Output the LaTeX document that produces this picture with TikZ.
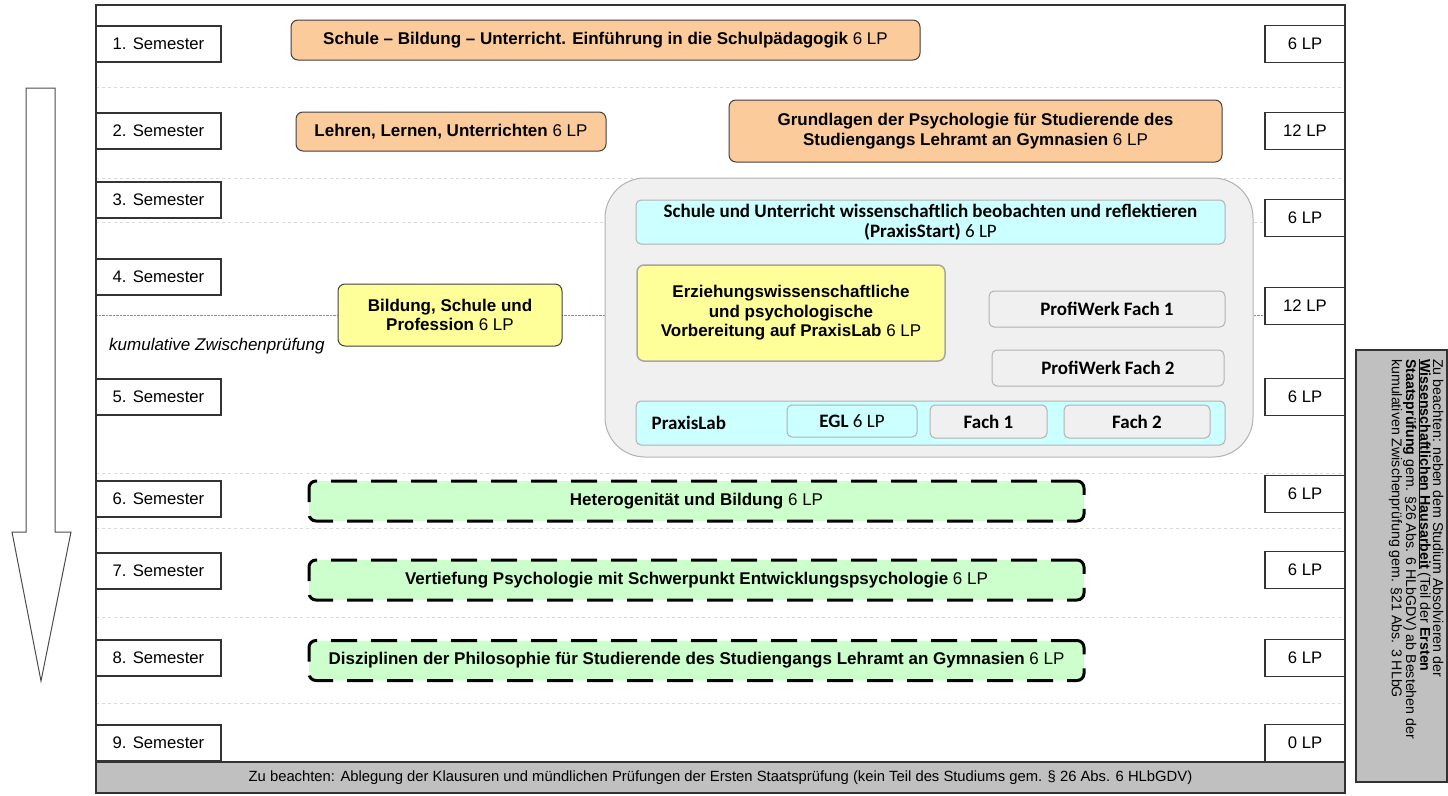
\documentclass[tikz,border=0pt]{standalone}
\usepackage{fontspec}
\setmainfont{Liberation Sans}
\newfontfamily\calibri{Carlito}
\usetikzlibrary{positioning}
\definecolor{orangefill}{RGB}{251,203,155}
\definecolor{yellowfill}{RGB}{255,255,153}
\definecolor{cyanfill}{RGB}{204,255,255}
\definecolor{greenfill}{RGB}{204,255,204}
\definecolor{lightfill}{RGB}{240,240,240}
\definecolor{notefill}{RGB}{192,192,192}

\begin{document}
\begin{tikzpicture}
    [x=1pt, y=-1pt,
     sem/.style = {draw=black!80, line width=1.1pt, fill=white, inner sep=0pt, minimum width=125pt, minimum height=36pt, font=\fontsize{16.7}{19}\selectfont},
     lp/.style = {sem, minimum width=80pt, minimum height=37pt},
     modul/.style = {draw=black!75, line width=1pt, rounded corners=7pt, inner sep=0pt, align=center, font=\fontsize{17}{19.5}\selectfont},
     orangebox/.style = {modul, fill=orangefill},
     yellowbox/.style = {modul, fill=yellowfill},
     greenbox/.style = {modul, fill=greenfill, draw=black, line width=3pt, dash pattern=on 26pt off 14pt, minimum width=775pt, minimum height=40pt},
     praxisbox/.style = {draw=black!30, line width=1pt, rounded corners=5pt, inner sep=0pt, align=center, font=\calibri\fontsize{19}{20}\selectfont},
     sep/.style = {black!15, dashed}]
    \useasboundingbox (0,0) rectangle (1448,795);
    % rows and frame
    \foreach \y in {87,178,222,473,528,617,703}
        \draw[sep] (96,\y) -- (1345,\y);
    \draw[black!45, densely dotted] (96,315) -- (1265,315);
    \draw[black!80, line width=1.1pt] (96,5) rectangle (1345,793);
    % time arrow
    \draw[black!70, line width=1pt, fill=white] (26,88) -- (55,88) -- (55,532) -- (71,532) -- (41,681) -- (12,532) -- (26,532) -- cycle;
    % semesters and credit points
    \foreach \i/\y in {1/44,2/131,3/200,4/277,5/397,6/499,7/571,8/658,9/743}
        \node[sem] (s\i) at (158.5,\y) {\i. Semester};
    \foreach \i/\y/\n in {1/44/6,2/131/12,3/218/6,4/306/12,5/397/6,6/494/6,7/570/6,8/658/6,9/743/0}
        \node[lp] (lp\i) at (1305,\y) {\n\ LP};
    % modules
    \node[orangebox, minimum width=629pt, minimum height=40pt] (m1) at (605.5,40) {\textbf{Schule – Bildung – Unterricht. Einführung in die Schulpädagogik} 6 LP};
    \node[orangebox, minimum width=310pt, minimum height=39pt] (m2) at (451,131.5) {\textbf{Lehren, Lernen, Unterrichten} 6 LP};
    \node[orangebox, minimum width=493pt, minimum height=62pt] (m3) at (975.5,131) {\textbf{Grundlagen der Psychologie für Studierende des}\\\textbf{Studiengangs Lehramt an Gymnasien} 6 LP};
    \node[yellowbox, minimum width=224pt, minimum height=62pt] (bsp) at (450,315) {\textbf{Bildung, Schule und}\\\textbf{Profession} 6 LP};
    \node[anchor=west, inner sep=0pt, font=\itshape\fontsize{17}{19}\selectfont] (kzp) at (109,346) {kumulative Zwischenprüfung};
    % practical phase
    \node[draw=black!30, line width=1pt, fill=lightfill, rounded corners=40pt, minimum width=648pt, minimum height=279pt] (praxis) at (929,317.5) {};
    \node[praxisbox, fill=cyanfill, minimum width=589pt, minimum height=44pt] (start) at (930.5,222) {\textbf{Schule und Unterricht wissenschaftlich beobachten und reflektieren}\\\textbf{(PraxisStart)} 6 LP};
    \node[yellowbox, draw=black!35, line width=1.5pt, minimum width=308pt, minimum height=96pt] (vorb) at (791,313) {\textbf{Erziehungswissenschaftliche}\\\textbf{und psychologische}\\\textbf{Vorbereitung auf PraxisLab} 6 LP};
    \node[praxisbox, fill=lightfill, minimum width=236pt, minimum height=36pt] (pw1) at (1107,309) {\textbf{ProfiWerk Fach 1}};
    \node[praxisbox, fill=lightfill, minimum width=232pt, minimum height=36pt] (pw2) at (1108,368) {\textbf{ProfiWerk Fach 2}};
    \node[praxisbox, fill=cyanfill, minimum width=589pt, minimum height=44pt] (lab) at (930.5,423) {};
    \node[anchor=west, inner sep=0pt, font=\calibri\bfseries\fontsize{19}{20}\selectfont] (labtext) at ([xshift=16pt]lab.west) {PraxisLab};
    \node[praxisbox, fill=cyanfill, minimum width=130pt, minimum height=32pt] (egl) at (852,421) {\textbf{EGL} 6 LP};
    \node[praxisbox, fill=lightfill, minimum width=117pt, minimum height=33pt] (f1) at (988.5,421.5) {\textbf{Fach 1}};
    \node[praxisbox, fill=lightfill, minimum width=146pt, minimum height=33pt] (f2) at (1137,421.5) {\textbf{Fach 2}};
    % elective modules
    \node[greenbox] (het) at (696.5,501) {\textbf{Heterogenität und Bildung} 6 LP};
    \node[greenbox] (vert) at (696.5,580) {\textbf{Vertiefung Psychologie mit Schwerpunkt Entwicklungspsychologie} 6 LP};
    \node[greenbox] (phil) at (696.5,660.5) {\textbf{Disziplinen der Philosophie für Studierende des Studiengangs Lehramt an Gymnasien} 6 LP};
    % notes
    \node[draw=black!80, line width=1.1pt, fill=notefill, inner sep=0pt, minimum width=1249pt, minimum height=31pt, font=\fontsize{14.8}{16}\selectfont] (hinweis) at (720.5,777.5) {Zu beachten: Ablegung der Klausuren und mündlichen Prüfungen der Ersten Staatsprüfung (kein Teil des Studiums gem. § 26 Abs. 6 HLbGDV)};
    \node[draw=black!80, line width=1.1pt, fill=notefill, inner sep=0pt, minimum width=91pt, minimum height=432pt] (notiz) at (1401.5,566) {};
    \node[rotate=-90, anchor=north west, align=left, inner sep=0pt, font=\fontsize{14.2}{12.6}\selectfont] (notiztext) at (1443.5,359) {Zu beachten: neben dem Studium Absolvieren der\\\underline{\textbf{Wissenschaftlichen Hausarbeit}} (Teil der \textbf{Ersten}\\\textbf{Staatsprüfung} gem. §26 Abs. 6 HLbGDV) ab Bestehen der\\kumulativen Zwischenprüfung gem. §21 Abs. 3 HLbG};
\end{tikzpicture}
\end{document}
